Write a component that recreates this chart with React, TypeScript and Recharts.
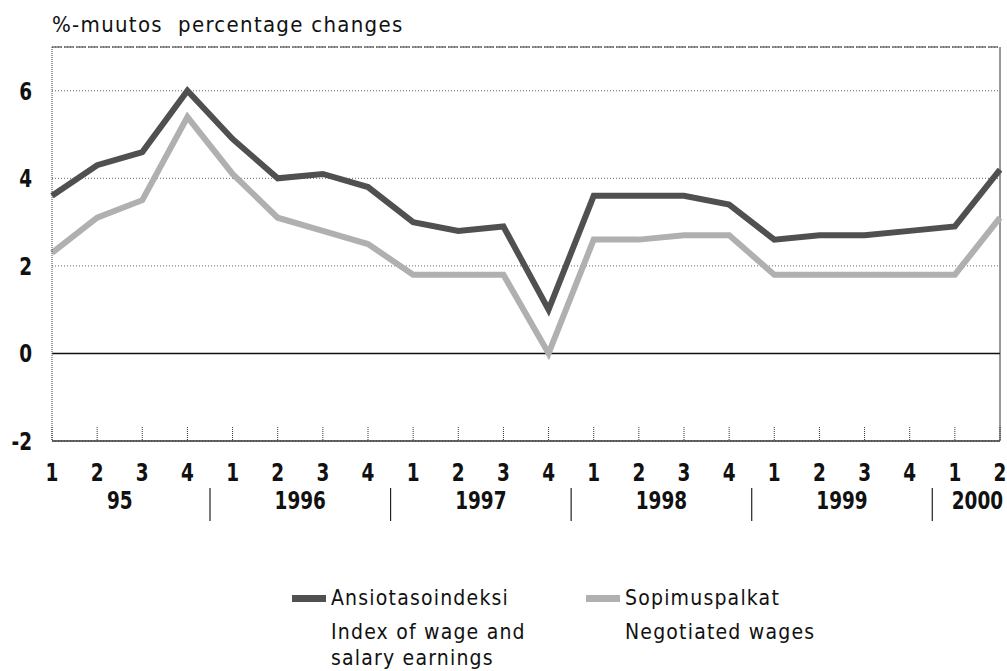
import { LineChart, Line, XAxis, YAxis, CartesianGrid, ReferenceLine } from "recharts";

const FONT = '"DejaVu Sans Condensed", "Liberation Sans Narrow", "Roboto Condensed", "Liberation Sans", sans-serif';

// quarters per year label
const years = ["95", "1996", "1997", "1998", "1999", "2000"];
const quartersPerYear = [4, 4, 4, 4, 4, 2];

// Ansiotasoindeksi / Index of wage and salary earnings
const earnings = [3.6, 4.3, 4.6, 6.0, 4.9, 4.0, 4.1, 3.8, 3.0, 2.8, 2.9, 1.0, 3.6, 3.6, 3.6, 3.4, 2.6, 2.7, 2.7, 2.8, 2.9, 4.2];
// Sopimuspalkat / Negotiated wages
const negotiated = [2.3, 3.1, 3.5, 5.4, 4.1, 3.1, 2.8, 2.5, 1.8, 1.8, 1.8, 0.0, 2.6, 2.6, 2.7, 2.7, 1.8, 1.8, 1.8, 1.8, 1.8, 3.1];

const yTicks = [-2, 0, 2, 4, 6];
const title = "%-muutos  percentage changes";

const seriesNames = [
  { key: "earnings", fi: "Ansiotasoindeksi", en: ["Index of wage and", "salary earnings"], color: "#505050" },
  { key: "negotiated", fi: "Sopimuspalkat", en: ["Negotiated wages"], color: "#b0b0b0" },
];

type Point = { key: string; q: string; yearIdx: number; qIdx: number; earnings: number; negotiated: number };

const data: Point[] = [];
years.forEach((yr, yi) => {
  for (let q = 0; q < quartersPerYear[yi]; q++) {
    const i = data.length;
    data.push({ key: yr + "-" + (q + 1), q: String(q + 1), yearIdx: yi, qIdx: q, earnings: earnings[i], negotiated: negotiated[i] });
  }
});

const W = 1007;
const H = 671;
const LEFT = 52;
const RIGHT = 7;
const TOP = 47;
const AXIS_H = 90;
const PLOT_BOTTOM = 441;
const step = (W - LEFT - RIGHT) / (data.length - 1);

// tall narrow bold numbers like the printed original
const Num = ({ x, y, anchor = "middle", children }: any) => (
  <text
    transform={`translate(${x},${y}) scale(0.82,1)`}
    textAnchor={anchor}
    fontSize={25}
    fontWeight={700}
    fontFamily={FONT}
    fill="#111"
  >
    {children}
  </text>
);

const QuarterTick = (props: any) => {
  const { x, y, index } = props;
  const p = data[index];
  if (!p) return null;
  const n = quartersPerYear[p.yearIdx];
  const mid = Math.floor((n - 1) / 2);
  return (
    <g>
      <line x1={x} x2={x} y1={y - 14} y2={y} stroke="#333" strokeDasharray="1 1" />
      <Num x={x} y={y + 40}>{p.q}</Num>
      {p.qIdx === mid && <Num x={x + ((n - 1) / 2 - mid) * step} y={y + 68}>{years[p.yearIdx]}</Num>}
      {p.qIdx === 0 && p.yearIdx > 0 && (
        <line x1={x - step / 2} x2={x - step / 2} y1={y + 47} y2={y + 80} stroke="#222" strokeWidth={1.2} />
      )}
    </g>
  );
};

const ValueTick = (props: any) => {
  const { y, payload } = props;
  return <Num x={32} y={y + 9} anchor="end">{payload.value}</Num>;
};

export default function App() {
  return (
    <div style={{ position: "absolute", left: 0, top: 0, width: W, height: H, background: "#fff" }}>
      <div
        style={{
          position: "absolute",
          left: 52,
          top: 12,
          fontFamily: FONT,
          fontSize: 22,
          letterSpacing: 1.3,
          whiteSpace: "pre",
          color: "#111",
          lineHeight: "26px",
        }}
      >
        {title}
      </div>
      <LineChart
        width={W}
        height={H}
        data={data}
        margin={{ top: TOP, right: RIGHT, left: 0, bottom: H - PLOT_BOTTOM - AXIS_H }}
      >
        <CartesianGrid vertical={false} stroke="#666" strokeDasharray="1 2" />
        <XAxis
          dataKey="key"
          height={AXIS_H}
          interval={0}
          tickSize={0}
          tickMargin={0}
          tickLine={false}
          axisLine={{ stroke: "#333", strokeWidth: 1.5 }}
          tick={<QuarterTick />}
        />
        <YAxis
          width={LEFT}
          domain={[-2, 7]}
          ticks={yTicks}
          tickLine={false}
          tickSize={0}
          tickMargin={20}
          axisLine={{ stroke: "#444", strokeDasharray: "1 1" }}
          tick={<ValueTick />}
        />
        <ReferenceLine y={7} stroke="#333" strokeDasharray="10 2" />
        <ReferenceLine y={0} stroke="#111" strokeWidth={1.5} />
        <ReferenceLine x={data[data.length - 1].key} stroke="#333" />
        <Line dataKey="negotiated" stroke={seriesNames[1].color} strokeWidth={6} dot={false} isAnimationActive={false} />
        <Line dataKey="earnings" stroke={seriesNames[0].color} strokeWidth={6} dot={false} isAnimationActive={false} />
      </LineChart>
      {seriesNames.map((s, i) => (
        <div
          key={s.key}
          style={{
            position: "absolute",
            left: i === 0 ? 292 : 586,
            top: 585,
            fontFamily: FONT,
            fontSize: 21,
            letterSpacing: 1.2,
            color: "#111",
            lineHeight: "26px",
          }}
        >
          <div style={{ display: "flex", alignItems: "center" }}>
            <span style={{ display: "inline-block", width: 34, height: 7, background: s.color, marginRight: 5 }} />
            <span>{s.fi}</span>
          </div>
          <div style={{ marginLeft: 39, marginTop: 8 }}>
            {s.en.map((t) => (
              <div key={t}>{t}</div>
            ))}
          </div>
        </div>
      ))}
    </div>
  );
}
